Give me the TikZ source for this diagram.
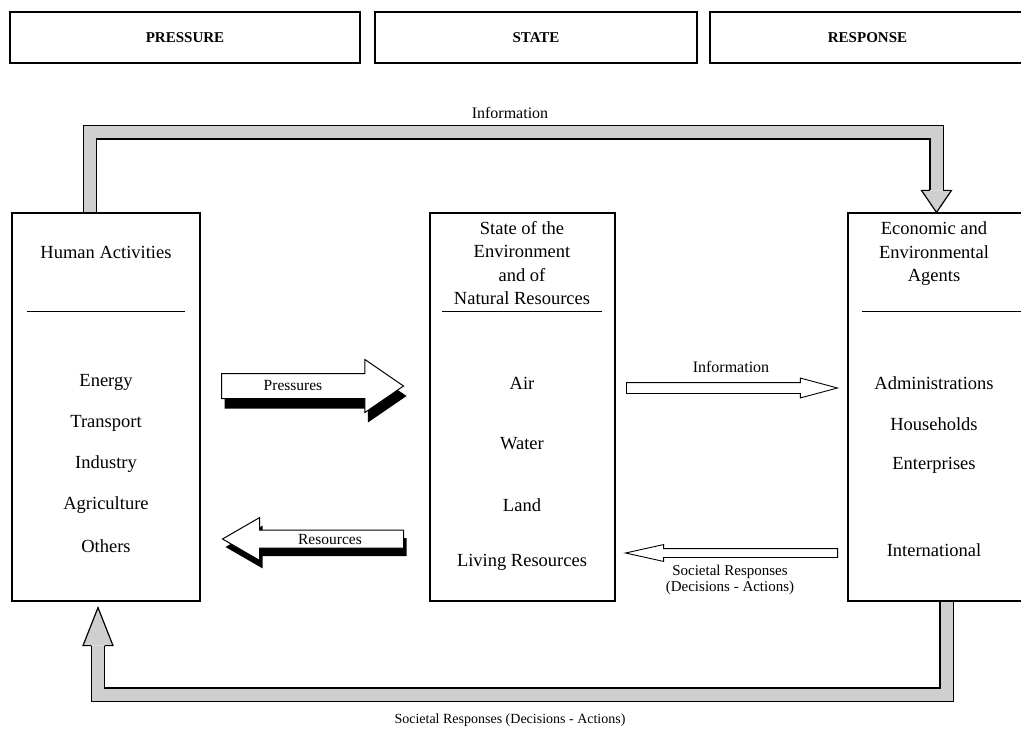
\documentclass[tikz,border=0pt]{standalone}
\usepackage{fontspec}
\setmainfont{Liberation Serif}
\usetikzlibrary{shapes.arrows,shadows,positioning}

\begin{document}
\begin{tikzpicture}[x=1pt, y=-1pt,
  header/.style={draw, line width=1.2pt, minimum height=51pt, font=\fontsize{15}{18}\selectfont\bfseries},
  panel/.style={draw, line width=1.2pt, minimum height=388pt},
  item/.style={align=center, font=\fontsize{18.5}{23.5}\selectfont},
  lbl/.style={align=center, font=\fontsize{15}{16}\selectfont},
  blocklbl/.style={font=\fontsize{15.5}{17}\selectfont},
  block/.style={single arrow, draw, line width=1pt, fill=white, inner sep=0pt, anchor=tail},
  thin/.style={single arrow, draw, line width=0.9pt, fill=white, inner sep=0pt, anchor=tail},
  band/.style={double=gray!38, double distance=12pt, line width=1.2pt, line join=miter},
  bandhead/.style={fill=gray!38, draw, line width=1.2pt, line join=miter}
]
  \useasboundingbox (0,0) rectangle (1021,730);

  % Headers
  \node[header, minimum width=350pt] (pres) at (185,37.5) {PRESSURE};
  \node[header, minimum width=322pt] (stat) at (536,37.5) {STATE};
  \node[header, minimum width=315pt] (resp) at (867.5,37.5) {RESPONSE};

  % Panels
  \node[panel, minimum width=188pt] (hum) at (106,407) {};
  \node[panel, minimum width=185pt] (env) at (522.5,407) {};
  \node[panel, minimum width=177pt] (agt) at (936.5,407) {};

  \node[item] (humt) at (106,252) {Human Activities};
  \node[item] (envt) at (522,263) {State of the\\Environment\\and of\\Natural Resources};
  \node[item] (agtt) at (934,254) {Economic and\\Environmental\\Agents};

  \draw[line width=1pt] (27,312) -- (185,312);
  \draw[line width=1pt] (442,312) -- (602,312);
  \draw[line width=1pt] (862,312) -- (1021,312);

  \foreach \t [count=\i] in {Energy,Transport,Industry,Agriculture,Others}
    \node[item] (hum\i) at (106,341+41*\i) {\t};
  \foreach \t/\y [count=\i] in {Air/383,Water/444,Land/505,Living Resources/562}
    \node[item] (env\i) at (522,\y) {\t};
  \foreach \t/\y [count=\i] in {Administrations/383,Households/424,Enterprises/465,International/550}
    \node[item] (agt\i) at (934,\y) {\t};

  % Pressures and resources
  \node[block, minimum height=182pt, single arrow head extend=14pt, single arrow tip angle=69,
    inner ysep=12pt, drop shadow={shadow xshift=3pt, shadow yshift=-10pt, fill=black, opacity=1}]
    (press) at (221,386) {};
  \node[blocklbl] (presst) at (293,386) {Pressures};
  \node[block, minimum height=181pt, single arrow head extend=12.5pt, single arrow tip angle=60,
    inner ysep=8.5pt, shape border rotate=180,
    drop shadow={shadow xshift=3pt, shadow yshift=-8pt, fill=black, opacity=1}]
    (reso) at (404,539) {};
  \node[blocklbl] (resot) at (330,539) {Resources};

  % Information and responses
  \node[thin, minimum height=211pt, single arrow head extend=4.5pt, single arrow tip angle=30,
    inner ysep=5pt] (info) at (626,388) {};
  \node[lbl, font=\fontsize{16}{18}\selectfont] (infot) at (731,367) {Information};
  \node[thin, minimum height=212pt, single arrow head extend=4pt, single arrow tip angle=25,
    inner ysep=4pt, shape border rotate=180] (soc) at (838,553) {};
  \node[lbl] (soct) at (730,580) {Societal Responses\\(Decisions - Actions)};

  % Outer loop
  \draw[band] ([xshift=-16pt]hum.north) |- ([yshift=80pt]agt.north) -- ([yshift=22pt]agt.north);
  \filldraw[bandhead] ([xshift=-6.6pt,yshift=22pt]agt.north) -- ([xshift=-15pt,yshift=22pt]agt.north)
    -- (agt.north) -- ([xshift=15pt,yshift=22pt]agt.north) -- ([xshift=6.6pt,yshift=22pt]agt.north);
  \node[lbl, font=\fontsize{16}{18}\selectfont] (loopt) at (510,113) {Information};

  \draw[band] ([xshift=10pt]agt.south) |- ([xshift=-8pt,yshift=-93pt]hum.south) -- ([xshift=-8pt,yshift=-44pt]hum.south);
  \filldraw[bandhead] ([xshift=-14.6pt,yshift=-44pt]hum.south) -- ([xshift=-23pt,yshift=-44pt]hum.south)
    -- ([xshift=-8pt,yshift=-6pt]hum.south) -- ([xshift=7pt,yshift=-44pt]hum.south) -- ([xshift=-1.4pt,yshift=-44pt]hum.south);
  \node[lbl, font=\fontsize{14}{16}\selectfont] (loopb) at (510,720) {Societal Responses (Decisions - Actions)};

\end{tikzpicture}
\end{document}
